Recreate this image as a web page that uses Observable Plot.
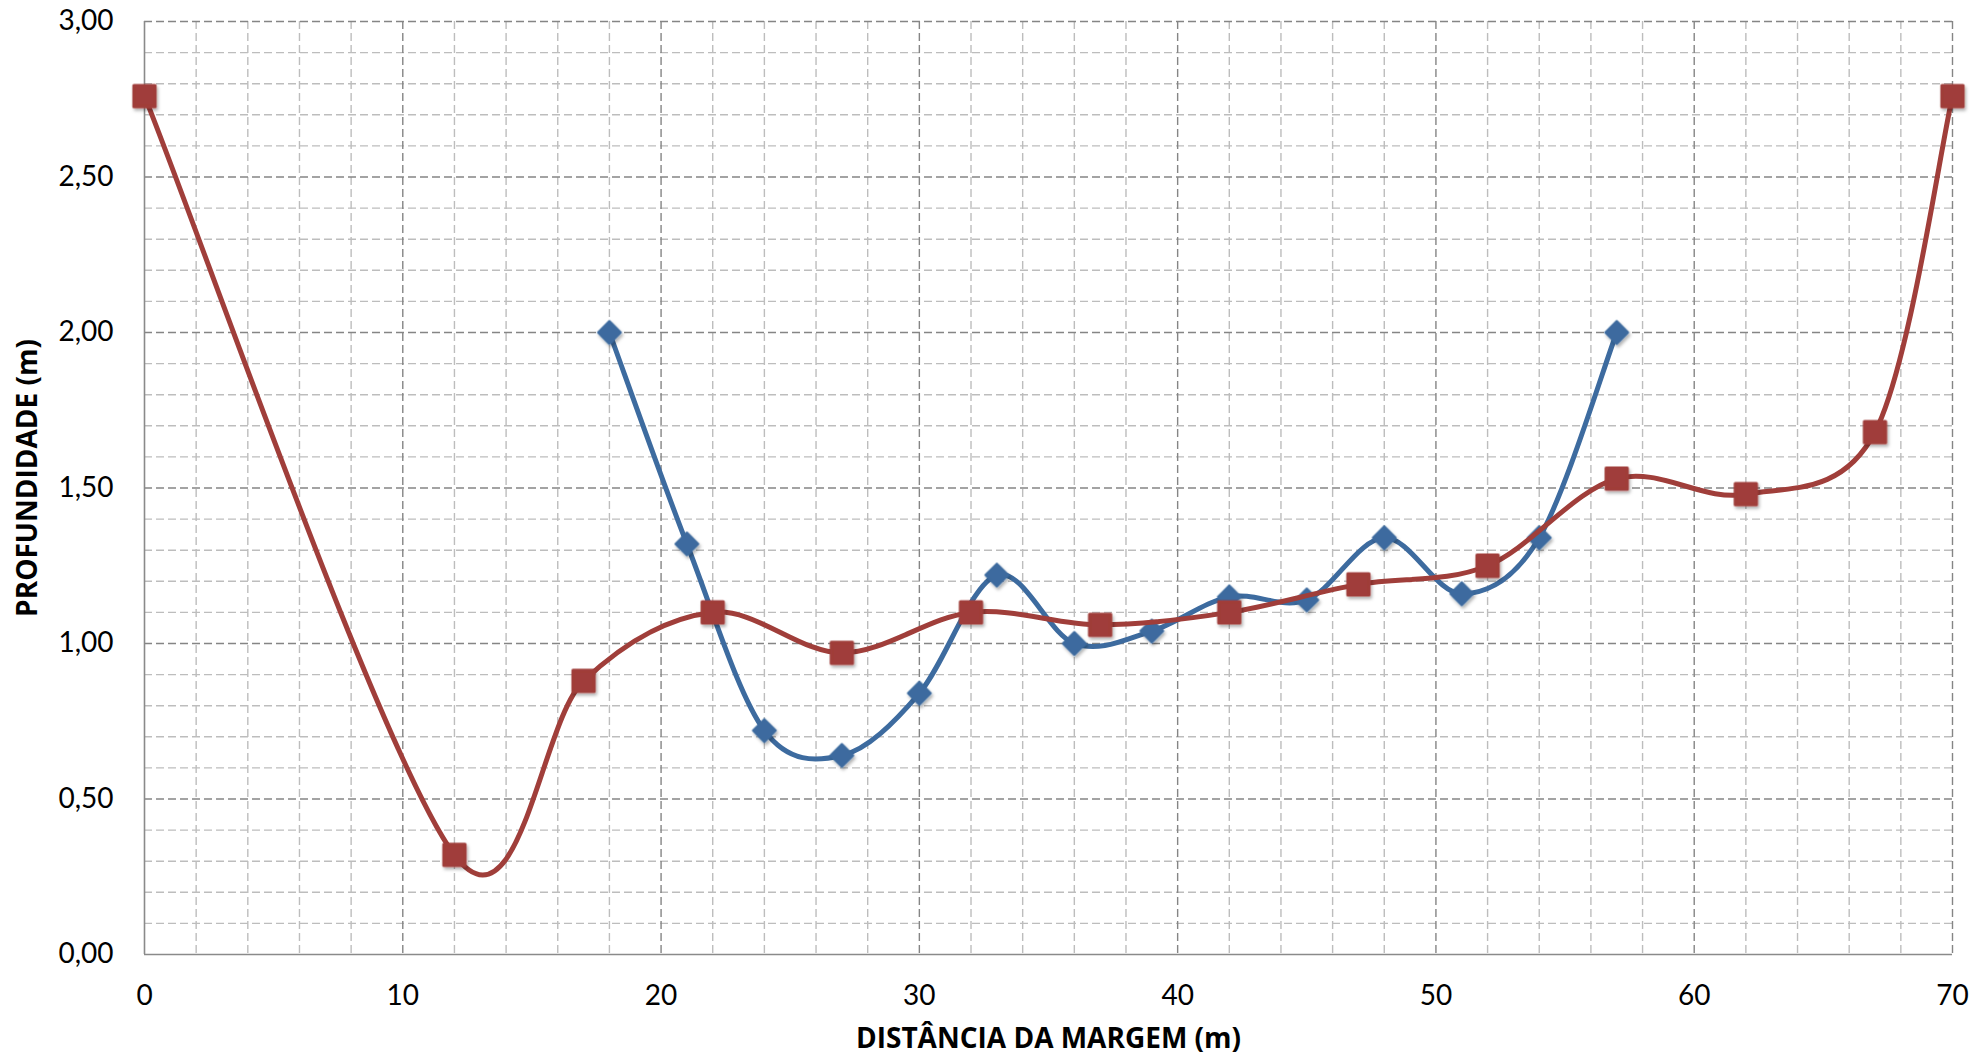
<!DOCTYPE html>
<html><head><meta charset="utf-8">
<script src="https://cdn.jsdelivr.net/npm/d3@7"></script>
<script src="https://cdn.jsdelivr.net/npm/@observablehq/plot@0.6"></script>
<style>html,body{margin:0;padding:0;background:#fff}</style>
</head><body><div id="chart"></div>
<script>
// Series 2 (red squares)
const redX = [0, 12, 17, 22, 27, 32, 37, 42, 47, 52, 57, 62, 67, 70];
const redY = [2.76, 0.32, 0.88, 1.10, 0.97, 1.10, 1.06, 1.10, 1.19, 1.25, 1.53, 1.48, 1.68, 2.76];
// Series 1 (blue diamonds)
const blueX = [18, 21, 24, 27, 30, 33, 36, 39, 42, 45, 48, 51, 54, 57];
const blueY = [2.00, 1.32, 0.72, 0.64, 0.84, 1.22, 1.00, 1.04, 1.15, 1.14, 1.34, 1.16, 1.34, 2.00];
const xTicks = [0, 10, 20, 30, 40, 50, 60, 70];
const yTicks = [0, 0.5, 1, 1.5, 2, 2.5, 3];
const xMinor = d3.range(0, 71, 2).filter(v => v % 10 !== 0);
const yMinor = d3.range(0, 31, 1).map(v => v / 10).filter((v, i) => i % 5 !== 0);
const xTitle = "DISTÂNCIA DA MARGEM (m)";
const yTitle = "PROFUNDIDADE (m)";

const red = redX.map((x, i) => ({x, y: redY[i]}));
const blue = blueX.map((x, i) => ({x, y: blueY[i]}));

const RED = "#a03e3a", BLUE = "#3d6b9f";

// Excel-like smoothed line: Bezier with Catmull-Rom tangents (1/6), clamped to half segment length
function excelCurve(context) {
  let pts;
  return {
    areaStart() {}, areaEnd() {},
    lineStart() { pts = []; },
    point(x, y) { pts.push([+x, +y]); },
    lineEnd() {
      const n = pts.length;
      if (!n) return;
      context.moveTo(pts[0][0], pts[0][1]);
      const dist = (a, b) => Math.hypot(a[0] - b[0], a[1] - b[1]);
      for (let i = 0; i < n - 1; i++) {
        const p0 = pts[Math.max(i - 1, 0)], p1 = pts[i], p2 = pts[i + 1], p3 = pts[Math.min(i + 2, n - 1)];
        const d12 = dist(p1, p2), d02 = dist(p0, p2), d13 = dist(p1, p3);
        let f1 = 1 / 6, f2 = 1 / 6;
        if (d02 / 6 >= d12 / 2) f1 = d12 / d02 / 2;
        if (d13 / 6 >= d12 / 2) f2 = d12 / d13 / 2;
        context.bezierCurveTo(
          p1[0] + f1 * (p2[0] - p0[0]), p1[1] + f1 * (p2[1] - p0[1]),
          p2[0] - f2 * (p3[0] - p1[0]), p2[1] - f2 * (p3[1] - p1[1]),
          p2[0], p2[1]);
      }
    }
  };
}

const fmtY = d => d.toFixed(2).replace(".", ",");
const dash = "8,4";
const titleFont = "'Open Sans', Lato, sans-serif";

const chart = Plot.plot({
  width: 1973,
  height: 1059,
  marginLeft: 144,
  marginRight: 21,
  marginTop: 21,
  marginBottom: 105,
  style: {fontFamily: "Lato, 'Open Sans', sans-serif", background: "#fff", color: "#000"},
  x: {domain: [0, 70]},
  y: {domain: [0, 3]},
  marks: [
    Plot.gridX(xMinor, {stroke: "#bdbdbd", strokeOpacity: 1, strokeWidth: 1.4, strokeDasharray: dash}),
    Plot.gridY(yMinor, {stroke: "#bdbdbd", strokeOpacity: 1, strokeWidth: 1.4, strokeDasharray: dash}),
    Plot.gridX(xTicks.filter(v => v > 0), {stroke: "#858585", strokeOpacity: 1, strokeWidth: 1.4, strokeDasharray: dash}),
    Plot.gridY(yTicks.filter(v => v > 0), {stroke: "#858585", strokeOpacity: 1, strokeWidth: 1.4, strokeDasharray: dash}),
    Plot.ruleX([0], {stroke: "#8a8a8a", strokeWidth: 1.6}),
    Plot.ruleY([0], {stroke: "#8a8a8a", strokeWidth: 1.6}),
    Plot.axisX({ticks: xTicks, tickSize: 0, tickPadding: 31, fontSize: 28, label: null, tickFormat: d => String(d)}),
    Plot.axisY({ticks: yTicks, tickSize: 0, tickPadding: 31, fontSize: 28, label: null, tickFormat: fmtY}),
    Plot.text([xTitle], {frameAnchor: "bottom", dy: 85, fontSize: 28, fontWeight: "bold", fontFamily: titleFont, textAnchor: "middle", lineAnchor: "middle"}),
    Plot.text([yTitle], {frameAnchor: "left", dx: -116, dy: -10, rotate: -90, fontSize: 28, fontWeight: "bold", fontFamily: titleFont, textAnchor: "middle", lineAnchor: "middle"}),
    Plot.line(blue, {x: "x", y: "y", stroke: BLUE, strokeWidth: 5, curve: excelCurve}),
    Plot.dot(blue, {x: "x", y: "y", symbol: "diamond2", r: 10.3, fill: BLUE, stroke: BLUE, strokeWidth: 2, strokeLinejoin: "round"}),
    Plot.line(red, {x: "x", y: "y", stroke: RED, strokeWidth: 5, curve: excelCurve}),
    Plot.dot(red, {x: "x", y: "y", symbol: "square", r: 12, fill: RED, stroke: RED, strokeWidth: 3, strokeLinejoin: "round"})
  ]
});

// soft drop shadow for the markers
const svg = d3.select(chart);
const defs = svg.insert("defs", ":first-child");
const f = defs.append("filter").attr("id", "mshadow").attr("x", "-50%").attr("y", "-50%").attr("width", "200%").attr("height", "200%");
f.append("feDropShadow").attr("dx", 1.5).attr("dy", 2.5).attr("stdDeviation", 1.8).attr("flood-color", "#000").attr("flood-opacity", 0.3);
svg.selectAll('g[aria-label="dot"]').attr("filter", "url(#mshadow)");

document.getElementById("chart").appendChild(chart);
</script>
</body></html>
